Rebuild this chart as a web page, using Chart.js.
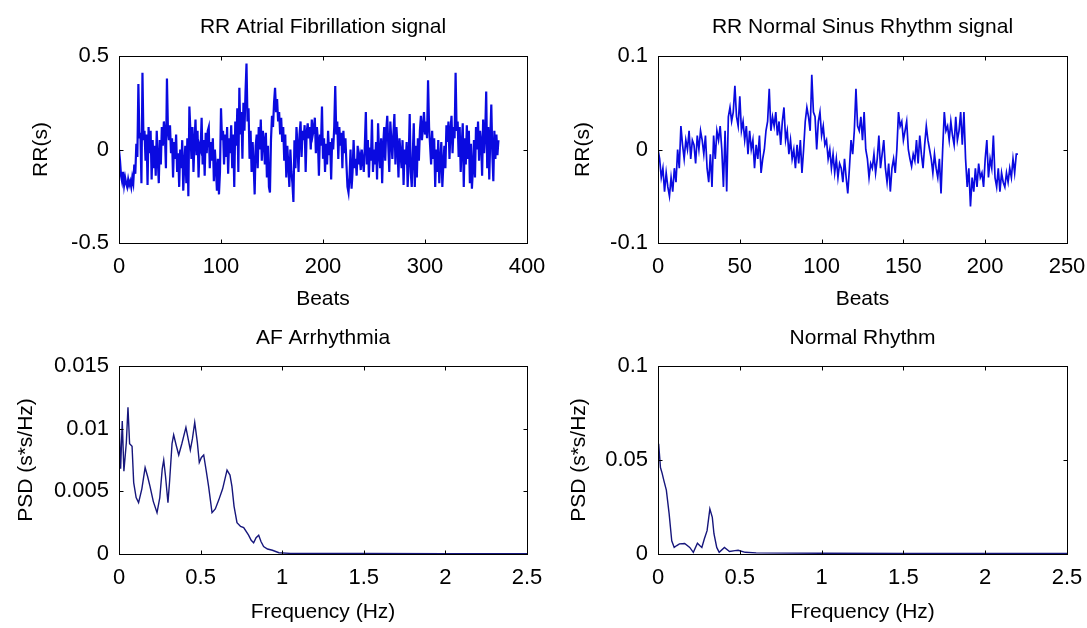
<!DOCTYPE html>
<html>
<head>
<meta charset="utf-8">
<title>RR signals and PSD</title>
<script src="https://cdn.jsdelivr.net/npm/chart.js@4.4.1/dist/chart.umd.min.js"></script>
<style>
  body { margin: 0; background: #fff; }
  canvas { position: absolute; }
</style>
</head>
<body>
<canvas id="afSignal" width="545" height="314" style="left:0;top:0"></canvas>
<canvas id="nsrSignal" width="542" height="314" style="left:545px;top:0"></canvas>
<canvas id="afPsdChart" width="545" height="314" style="left:0;top:314px"></canvas>
<canvas id="nsrPsdChart" width="542" height="314" style="left:545px;top:314px"></canvas>
<script>
// RR intervals (s, mean removed), one value per beat
const afRR = [
  0.0, -0.06, -0.14, -0.17, -0.12, -0.19, -0.15, -0.18, -0.2, -0.16,
  -0.19, -0.17, -0.2, -0.15, -0.18, -0.08, -0.13, 0.03, -0.04, 0.35,
  0.06, 0.09, -0.18, 0.41, 0.05, 0.1, -0.06, 0.08, -0.19, 0.12,
  -0.02, 0.1, -0.16, 0.05, -0.1, 0.02, -0.14, 0.1, -0.05, -0.18,
  0.05, -0.08, 0.12, 0.02, 0.15, 0.08, -0.1, 0.38, 0.1, 0.05,
  0.13, -0.02, 0.06, -0.15, 0.04, -0.05, 0.08, -0.12, -0.02, -0.2,
  0.0, -0.1, 0.05, -0.22, -0.08, 0.02, -0.18, 0.06, -0.25, 0.23,
  0.1, -0.05, 0.12, -0.12, 0.04, 0.16, -0.03, 0.1, -0.15, 0.02,
  0.0, 0.17, -0.08, 0.05, -0.14, 0.09, -0.02, 0.1, 0.12, -0.1,
  0.04, -0.06, 0.06, -0.17, 0.0, -0.1, -0.22, -0.05, -0.24, -0.12,
  0.22, 0.05, 0.1, -0.08, 0.08, -0.04, 0.12, -0.13, 0.06, -0.02,
  0.13, -0.1, 0.08, -0.2, 0.15, 0.02, 0.22, -0.12, 0.33, 0.08,
  0.2, -0.05, 0.25, 0.1, 0.3, 0.46, 0.15, 0.22, -0.05, 0.1,
  -0.12, 0.04, -0.08, -0.24, 0.02, 0.08, -0.1, 0.12, 0.0, 0.16,
  -0.06, 0.1, 0.05, -0.08, 0.09, -0.15, 0.02, -0.2, -0.23, 0.05,
  0.18, 0.12, 0.25, 0.33, 0.2, 0.27, 0.15, 0.2, 0.08, 0.17,
  0.04, 0.12, -0.06, 0.08, -0.15, 0.02, -0.08, -0.2, 0.0, -0.12,
  -0.18, -0.28, 0.05, -0.1, 0.12, 0.02, -0.12, 0.08, 0.15, -0.04,
  0.1, 0.05, 0.13, -0.12, 0.09, 0.14, 0.06, 0.12, 0.0, 0.16,
  0.08, 0.11, 0.17, -0.02, 0.12, 0.05, -0.14, 0.08, 0.02, 0.23,
  -0.05, 0.06, -0.12, 0.03, -0.08, 0.1, -0.03, 0.04, -0.16, 0.06,
  0.0, 0.12, 0.34, 0.08, 0.15, -0.05, 0.12, 0.02, 0.09, -0.1,
  0.1, -0.02, 0.06, -0.08, -0.2, -0.23, -0.15, 0.0, -0.21, -0.12,
  0.05, -0.1, -0.05, -0.14, 0.02, -0.08, -0.04, -0.11, 0.0, -0.06,
  -0.12, 0.02, 0.2, -0.08, 0.05, -0.15, 0.01, -0.06, 0.16, -0.12,
  0.0, -0.08, 0.04, -0.16, 0.14, -0.02, -0.1, 0.06, -0.18, 0.02,
  0.12, -0.06, 0.1, 0.18, 0.02, -0.12, 0.15, 0.05, -0.05, 0.08,
  0.19, -0.08, 0.12, 0.02, -0.15, 0.06, -0.02, -0.1, 0.05, -0.19,
  0.0, -0.08, 0.04, -0.2, -0.05, 0.19, -0.12, -0.2, -0.03, 0.14,
  -0.2, 0.02, -0.15, 0.06, -0.06, 0.1, 0.18, 0.05, 0.12, 0.2,
  0.08, 0.15, 0.06, 0.37, 0.12, 0.02, -0.08, 0.1, -0.05, 0.06,
  -0.2, 0.0, -0.12, 0.05, -0.18, -0.06, 0.04, -0.2, -0.08, 0.02,
  -0.1, 0.13, 0.04, 0.15, -0.05, 0.1, 0.18, -0.02, 0.12, 0.06,
  0.41, 0.1, 0.15, -0.04, 0.12, -0.12, 0.02, 0.14, -0.2, 0.06,
  -0.08, 0.13, -0.05, 0.1, -0.18, 0.03, -0.21, -0.1, 0.05, -0.15,
  0.12, 0.0, 0.15, -0.06, 0.1, 0.04, -0.14, 0.16, -0.02, 0.08,
  0.31, -0.1, 0.12, -0.16, 0.06, 0.24, -0.02, -0.17, 0.1, -0.05,
  0.08, -0.03, 0.05
];

const nsrRR = [
  0.0, -0.01, -0.03, -0.02, -0.045, -0.025, -0.04, -0.05, -0.03, -0.045,
  -0.02, -0.035, 0.0, -0.02, 0.025, 0.005, -0.01, 0.01, 0.0, 0.02,
  -0.01, 0.01, 0.005, -0.015, 0.015, 0.0, 0.02, 0.01, -0.005, 0.015,
  -0.02, -0.035, -0.005, -0.04, 0.015, -0.01, 0.02, 0.01, 0.025, 0.0,
  -0.04, 0.02, -0.045, 0.035, 0.045, 0.03, 0.04, 0.068, 0.035, 0.025,
  0.057, 0.02, 0.03, 0.01, 0.025, -0.005, 0.02, 0.0, 0.01, -0.02,
  0.005, -0.01, 0.015, -0.025, -0.01, 0.0, 0.02, 0.03, 0.065, 0.02,
  0.035, 0.025, 0.04, 0.015, 0.03, 0.005, 0.03, 0.045, 0.01, 0.02,
  -0.005, 0.01, -0.01, 0.0, -0.02, 0.005, -0.015, 0.01, -0.025, 0.0,
  0.03, 0.045, 0.035, 0.02, 0.08, 0.04, 0.035, 0.0, 0.03, 0.04,
  0.015, 0.025, 0.005, 0.01, -0.01, 0.0, -0.02, -0.005, -0.025, -0.01,
  -0.03, -0.015, -0.02, -0.035, -0.01, -0.03, -0.047, -0.02, 0.01, -0.005,
  0.02, 0.065, 0.025, 0.02, 0.035, 0.01, 0.04, 0.0, -0.01, -0.03,
  -0.015, -0.02, -0.005, -0.025, -0.01, 0.015, -0.02, -0.005, 0.01, -0.02,
  -0.035, -0.015, -0.045, -0.02, -0.01, -0.025, 0.0, 0.04, 0.025, 0.03,
  0.01, 0.02, 0.03, 0.0, -0.01, -0.018, -0.005, -0.012, 0.01, -0.015,
  0.015, -0.005, -0.02, 0.005, 0.025, 0.01, 0.0, -0.01, -0.025, -0.005,
  -0.02, -0.03, -0.01, -0.047, 0.0, 0.04, 0.02, 0.025, 0.01, 0.03,
  0.015, 0.005, 0.035, 0.01, 0.02, 0.04, 0.005, 0.04, -0.01, -0.04,
  -0.02, -0.061, -0.03, -0.045, -0.02, -0.04, -0.015, -0.03, -0.025, -0.04,
  -0.01, 0.01, -0.03, -0.01, -0.02, 0.015, -0.03, -0.04, -0.02, -0.045,
  -0.025, -0.035, -0.04, -0.025, -0.035, -0.02, -0.03, -0.01, -0.025, -0.005,
  -0.005
];

// power spectral densities (s*s/Hz) against frequency (Hz)
const afFreq = [0, 0.01, 0.02, 0.03, 0.045, 0.055, 0.065, 0.08, 0.09, 0.105,
  0.12, 0.14, 0.16, 0.175, 0.19, 0.21, 0.233, 0.25, 0.265, 0.274,
  0.285, 0.3, 0.31, 0.325, 0.335, 0.35, 0.366, 0.385, 0.41, 0.425,
  0.437, 0.45, 0.464, 0.48, 0.492, 0.505, 0.519, 0.535, 0.549, 0.57,
  0.59, 0.611, 0.635, 0.662, 0.68, 0.692, 0.705, 0.723, 0.745, 0.764,
  0.794, 0.81, 0.825, 0.84, 0.856, 0.87, 0.886, 0.91, 0.94, 0.98,
  1.05, 1.5, 2.0, 2.5];
const afPsd = [0.0108, 0.0068, 0.0106, 0.0066, 0.0089, 0.0117, 0.0088, 0.0086, 0.0057, 0.0045,
  0.0041, 0.0052, 0.0069, 0.0062, 0.0054, 0.0042, 0.0033, 0.0045, 0.0068, 0.0075,
  0.0062, 0.0041, 0.0058, 0.0088, 0.0095, 0.0087, 0.0079, 0.0088, 0.0101, 0.0091,
  0.0083, 0.0092, 0.0105, 0.0089, 0.0073, 0.0077, 0.0079, 0.0066, 0.0054, 0.0033,
  0.0036, 0.0043, 0.0052, 0.0067, 0.0063, 0.0054, 0.0038, 0.0025, 0.0022, 0.0021,
  0.0015, 0.0011, 0.0009, 0.0013, 0.0015, 0.001, 0.0006, 0.0004, 0.0003, 0.0001,
  0.00005, 0.00004, 0.00003, 0.00003];

const nsrFreq = [0, 0.004, 0.015, 0.025, 0.036, 0.051, 0.068, 0.084, 0.099, 0.115,
  0.131, 0.163, 0.194, 0.216, 0.241, 0.255, 0.268, 0.283, 0.3, 0.317,
  0.332, 0.342, 0.359, 0.374, 0.406, 0.437, 0.47, 0.49, 0.533, 0.6,
  1.0, 1.5, 2.0, 2.5];
const nsrPsd = [0.058, 0.0586, 0.046, 0.043, 0.039, 0.034, 0.0215, 0.007, 0.0035, 0.0045,
  0.0054, 0.0056, 0.0035, 0.0009, 0.0057, 0.0045, 0.0035, 0.008, 0.0124, 0.024,
  0.0195, 0.0108, 0.0035, 0.0009, 0.0035, 0.0013, 0.0018, 0.002, 0.0009, 0.0006,
  0.0004, 0.0003, 0.0003, 0.0003];

// tick values
const afBeatTicks = [0, 100, 200, 300, 400];
const afRRTicks = [-0.5, 0, 0.5];
const nsrBeatTicks = [0, 50, 100, 150, 200, 250];
const nsrRRTicks = [-0.1, 0, 0.1];
const freqTicks = [0, 0.5, 1, 1.5, 2, 2.5];
const afPsdTicks = [0, 0.005, 0.01, 0.015];
const nsrPsdTicks = [0, 0.05, 0.1];

Chart.defaults.font.family = "'Liberation Sans', Arial, sans-serif";
Chart.defaults.color = "#000";

const fmt = v => String(Number(v.toFixed(6)));

// matlab style box with inward ticks on all four sides
const frame = {
  id: "frame",
  afterDraw(chart) {
    const { ctx, chartArea: a, scales: { x, y } } = chart;
    const L = Math.round(a.left) + 0.5, R = Math.round(a.right) + 0.5;
    const T = Math.round(a.top) + 0.5, B = Math.round(a.bottom) + 0.5;
    ctx.save();
    ctx.strokeStyle = "#000";
    ctx.lineWidth = 1;
    ctx.strokeRect(L, T, R - L, B - T);
    ctx.beginPath();
    x.ticks.forEach(t => {
      const p = Math.round(x.getPixelForValue(t.value)) + 0.5;
      ctx.moveTo(p, B); ctx.lineTo(p, B - 4);
      ctx.moveTo(p, T); ctx.lineTo(p, T + 4);
    });
    y.ticks.forEach(t => {
      const p = Math.round(y.getPixelForValue(t.value)) + 0.5;
      ctx.moveTo(L, p); ctx.lineTo(L + 4, p);
      ctx.moveTo(R, p); ctx.lineTo(R - 4, p);
    });
    ctx.stroke();
    ctx.restore();
  }
};

function zeroPad(s) {
  s.paddingLeft = s.paddingRight = s.paddingTop = s.paddingBottom = 0;
}

function subplot(id, o) {
  return new Chart(document.getElementById(id), {
    type: "line",
    data: {
      datasets: [{
        data: o.points,
        borderColor: o.color,
        borderWidth: o.lineWidth,
        pointRadius: 0,
        tension: 0,
        fill: false
      }]
    },
    options: {
      responsive: false,
      animation: false,
      events: [],
      layout: { padding: { left: 0, top: 0, right: o.box.right, bottom: 0 } },
      plugins: {
        legend: { display: false },
        tooltip: { enabled: false },
        title: {
          display: true,
          fullSize: false,
          text: o.title,
          color: "#000",
          font: { size: 21, weight: "normal" },
          padding: { top: o.titleTop, bottom: o.box.top - o.titleTop - 25.2 }
        }
      },
      scales: {
        x: {
          type: "linear",
          min: o.xTicks[0],
          max: o.xTicks[o.xTicks.length - 1],
          grid: { display: false, drawTicks: false },
          border: { display: false },
          ticks: { padding: 11, font: { size: 22 }, maxRotation: 0, autoSkip: false, callback: fmt },
          afterBuildTicks: s => { s.ticks = o.xTicks.map(v => ({ value: v })); },
          afterFit: s => { s.height = o.box.xh; zeroPad(s); },
          title: { display: true, text: o.xLabel, font: { size: 21 }, padding: { top: 0, bottom: o.xTitlePad } }
        },
        y: {
          type: "linear",
          min: o.yTicks[0],
          max: o.yTicks[o.yTicks.length - 1],
          grid: { display: false, drawTicks: false },
          border: { display: false },
          ticks: { padding: 10, font: { size: 22 }, autoSkip: false, callback: fmt },
          afterBuildTicks: s => { s.ticks = o.yTicks.map(v => ({ value: v })); },
          afterFit: s => { s.width = o.box.left; zeroPad(s); },
          title: { display: true, text: o.yLabel, font: { size: 21 }, padding: { top: o.yTitlePad, bottom: 0 } }
        }
      }
    },
    plugins: [frame]
  });
}

const signalBlue = "#0a0ae0";
const psdBlue = "#16167c";

subplot("afSignal", {
  title: "RR Atrial Fibrillation signal",
  points: afRR.map((v, i) => ({ x: i, y: v })),
  color: signalBlue, lineWidth: 2.2,
  xTicks: afBeatTicks, yTicks: afRRTicks,
  xLabel: "Beats", yLabel: "RR(s)",
  box: { left: 119, right: 18, top: 56, xh: 71 },
  titleTop: 14.4, xTitlePad: 2.4, yTitlePad: 29
});

subplot("nsrSignal", {
  title: "RR Normal Sinus Rhythm signal",
  points: nsrRR.map((v, i) => ({ x: i, y: v })),
  color: signalBlue, lineWidth: 1.7,
  xTicks: nsrBeatTicks, yTicks: nsrRRTicks,
  xLabel: "Beats", yLabel: "RR(s)",
  box: { left: 113, right: 20, top: 56, xh: 71 },
  titleTop: 14.4, xTitlePad: 2.4, yTitlePad: 25.4
});

subplot("afPsdChart", {
  title: "AF Arrhythmia",
  points: afFreq.map((f, i) => ({ x: f, y: afPsd[i] })),
  color: psdBlue, lineWidth: 1.4,
  xTicks: freqTicks, yTicks: afPsdTicks,
  xLabel: "Frequency (Hz)", yLabel: "PSD (s*s/Hz)",
  box: { left: 119, right: 18, top: 52, xh: 74 },
  titleTop: 11.4, xTitlePad: 3.4, yTitlePad: 13.4
});

subplot("nsrPsdChart", {
  title: "Normal Rhythm",
  points: nsrFreq.map((f, i) => ({ x: f, y: nsrPsd[i] })),
  color: psdBlue, lineWidth: 1.4,
  xTicks: freqTicks, yTicks: nsrPsdTicks,
  xLabel: "Frequency (Hz)", yLabel: "PSD (s*s/Hz)",
  box: { left: 113, right: 20, top: 52, xh: 74 },
  titleTop: 11.4, xTitlePad: 3.4, yTitlePad: 22
});
</script>
</body>
</html>
